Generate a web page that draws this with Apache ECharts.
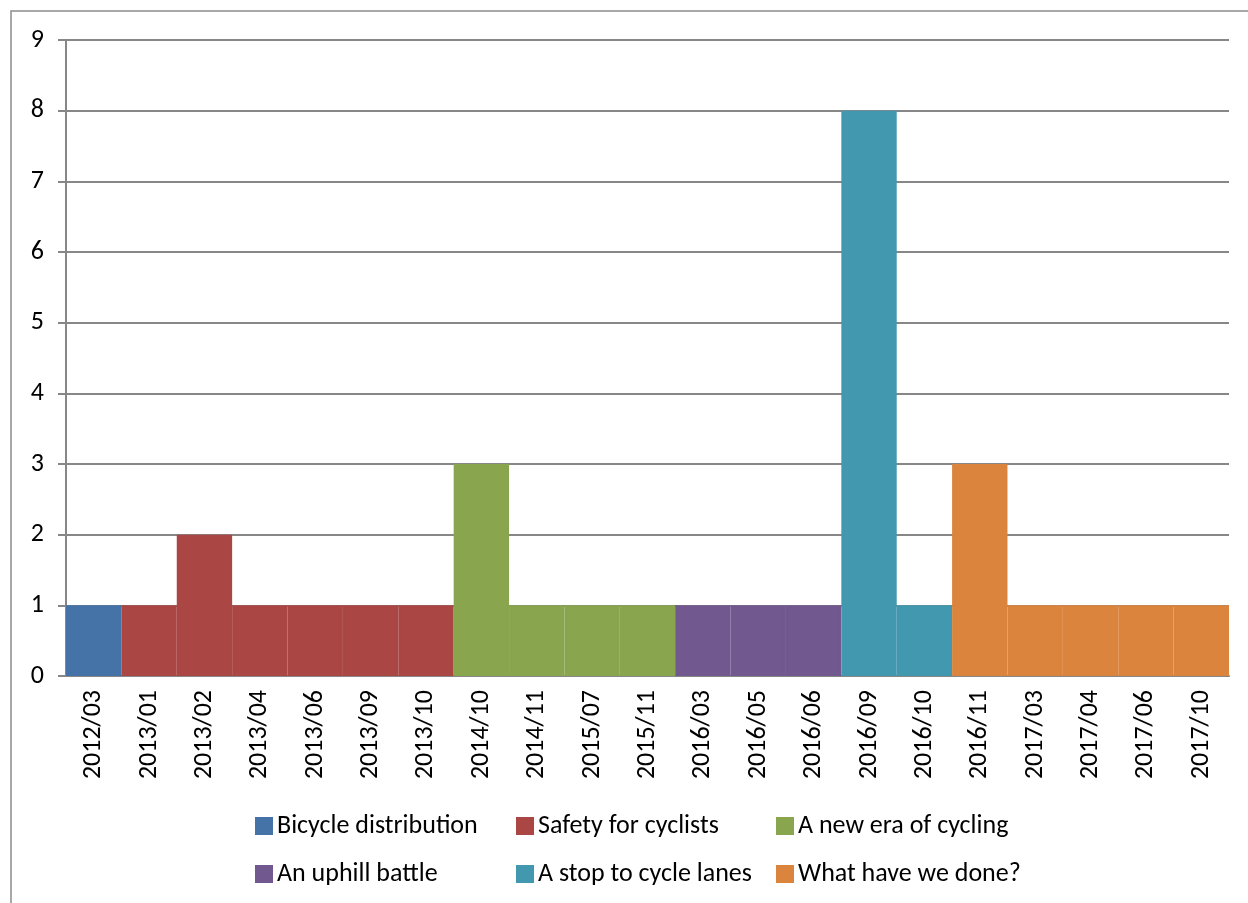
<!DOCTYPE html>
<html>
<head>
<meta charset="utf-8">
<script src="https://cdn.jsdelivr.net/npm/echarts@6/dist/echarts.min.js"></script>
<style>
  html, body { margin: 0; padding: 0; background: #fff; }
  #chart { width: 1248px; height: 903px; }
</style>
</head>
<body>
<div id="chart"></div>
<script>
  // categories (year/month)
  var months = ['2012/03','2013/01','2013/02','2013/04','2013/06','2013/09','2013/10',
    '2014/10','2014/11','2015/07','2015/11','2016/03','2016/05','2016/06',
    '2016/09','2016/10','2016/11','2017/03','2017/04','2017/06','2017/10'];

  // one array per series, null where the month belongs to another series
  var bicycleDistribution = [1,null,null,null,null,null,null,null,null,null,null,null,null,null,null,null,null,null,null,null,null];
  var safetyForCyclists   = [null,1,2,1,1,1,1,null,null,null,null,null,null,null,null,null,null,null,null,null,null];
  var newEraOfCycling     = [null,null,null,null,null,null,null,3,1,1,1,null,null,null,null,null,null,null,null,null,null];
  var uphillBattle        = [null,null,null,null,null,null,null,null,null,null,null,1,1,1,null,null,null,null,null,null,null];
  var stopToCycleLanes    = [null,null,null,null,null,null,null,null,null,null,null,null,null,null,8,1,null,null,null,null,null];
  var whatHaveWeDone      = [null,null,null,null,null,null,null,null,null,null,null,null,null,null,null,null,3,1,1,1,1];

  var seriesNames = ['Bicycle distribution','Safety for cyclists','A new era of cycling',
    'An uphill battle','A stop to cycle lanes','What have we done?'];
  var seriesData = [bicycleDistribution, safetyForCyclists, newEraOfCycling,
    uphillBattle, stopToCycleLanes, whatHaveWeDone];
  var colors = ['#4572A7','#AA4643','#89A54E','#71588F','#4198AF','#DB843D'];

  var font = 'Carlito, "Noto Sans", sans-serif';

  var chart = echarts.init(document.getElementById('chart'));

  // legend laid out as a 3 x 2 grid, one legend per item
  var legendCols = [255, 516, 776];
  var legendRows = [813, 861];
  var legends = seriesNames.map(function (name, i) {
    return {
      left: legendCols[i % 3],
      top: legendRows[Math.floor(i / 3)],
      padding: 0,
      itemWidth: 16,
      itemHeight: 16,
      icon: 'rect',
      textStyle: { fontFamily: font, fontSize: 26, color: '#000' },
      data: [name]
    };
  });

  chart.setOption({
    animation: false,
    color: colors,
    graphic: [{
      type: 'rect',
      shape: { x: 11, y: 11, width: 1300, height: 1000 },
      style: { fill: 'none', stroke: '#8c8c8c', lineWidth: 1.5 },
      silent: true
    }],
    legend: legends,
    grid: { left: 66, right: 19, top: 40, bottom: 227 },
    xAxis: {
      type: 'category',
      data: months,
      axisLine: { lineStyle: { color: '#878787', width: 2 } },
      axisTick: { alignWithLabel: false, length: 8, lineStyle: { color: '#878787', width: 2 } },
      axisLabel: { rotate: 90, margin: 14, fontFamily: font, fontSize: 26, color: '#000' }
    },
    yAxis: {
      type: 'value',
      min: 0,
      max: 9,
      interval: 1,
      axisLine: { show: true, lineStyle: { color: '#878787', width: 2 } },
      axisTick: { show: true, length: 8, lineStyle: { color: '#878787', width: 2 } },
      splitLine: { lineStyle: { color: '#878787', width: 2 } },
      axisLabel: { margin: 22, fontFamily: font, fontSize: 26, color: '#000' }
    },
    series: seriesNames.map(function (name, i) {
      return {
        name: name,
        type: 'bar',
        stack: 'all',
        barCategoryGap: 0,
        itemStyle: { borderColor: colors[i], borderWidth: 2 },
        data: seriesData[i]
      };
    })
  });
</script>
</body>
</html>
